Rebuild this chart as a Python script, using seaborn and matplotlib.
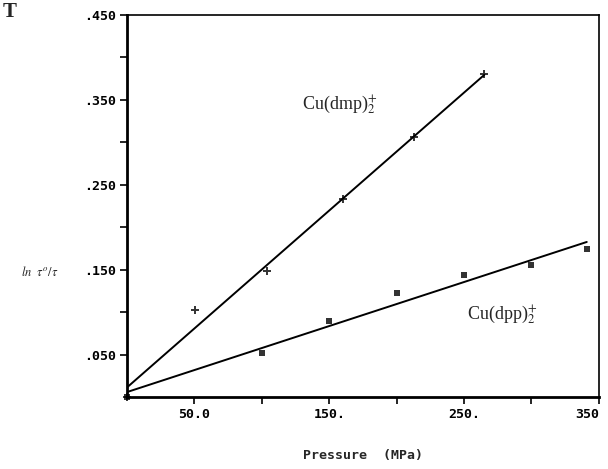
#!/usr/bin/env python

import pandas as pd
import seaborn as sns
import matplotlib.pyplot as plt

sns.set_theme(style="ticks")
plt.rcParams['mathtext.fontset'] = 'stix'

# points (origin shared by both series)
pressure_dmp = [0, 50.5, 104, 160, 213, 265]
lnratio_dmp = [0.0, 0.102, 0.148, 0.233, 0.306, 0.380]
pressure_dpp = [0, 100, 150, 200, 250, 300, 341]
lnratio_dpp = [0.0, 0.052, 0.0895, 0.122, 0.1437, 0.155, 0.174]

y_ticks = [0.05, 0.10, 0.15, 0.20, 0.25, 0.30, 0.35, 0.40, 0.45]
y_labels = ['.050', '', '.150', '', '.250', '', '.350', '', '.450']
x_ticks = [50, 100, 150, 200, 250, 300, 350]
x_labels = ['50.0', '', '150.', '', '250.', '', '350']


def main():
    dmp = pd.DataFrame({'Pressure': pressure_dmp, 'ln': lnratio_dmp})
    dpp = pd.DataFrame({'Pressure': pressure_dpp, 'ln': lnratio_dpp})

    fig = plt.figure(figsize=(6.08, 4.69), dpi=100)
    ax = fig.add_axes([0.209, 0.1535, 0.776, 0.8145])

    sns.regplot(data=dmp, x='Pressure', y='ln', ci=None, marker='+',
                color='black', ax=ax,
                scatter_kws=dict(s=35, linewidths=1.4, clip_on=False),
                line_kws=dict(lw=1.4))
    sns.regplot(data=dpp, x='Pressure', y='ln', ci=None, marker='s',
                color='black', ax=ax,
                scatter_kws=dict(s=18, linewidths=0, clip_on=False),
                line_kws=dict(lw=1.4))

    ax.set_xlim(0, 350)
    ax.set_ylim(0, 0.45)
    ax.set_xticks(x_ticks)
    ax.set_xticklabels(x_labels)
    ax.set_yticks(y_ticks)
    ax.set_yticklabels(y_labels)
    tick_font = dict(family='DejaVu Sans Mono', weight='bold', size=9.5)
    for lab in ax.get_xticklabels() + ax.get_yticklabels():
        lab.set_fontproperties(tick_font)
    # last x label sits flush against the right edge in the scan
    ax.get_xticklabels()[-1].set_horizontalalignment('right')
    ax.get_xticklabels()[-1].set_x(350)
    ax.tick_params(axis='both', direction='out', length=5, width=1.2,
                   color='black', labelcolor='black', pad=3)
    ax.tick_params(axis='x', pad=3)

    for side in ['left', 'bottom']:
        ax.spines[side].set_linewidth(2.0)
    for side in ['top', 'right']:
        ax.spines[side].set_linewidth(1.2)
    for sp in ax.spines.values():
        sp.set_color('black')

    ax.set_xlabel('Pressure  (MPa)', fontdict=tick_font, labelpad=20)
    ax.set_ylabel('')

    ax.text(130, 0.345, r'Cu(dmp)$_2^{\!+}$', family='Liberation Serif',
            fontsize=13, va='center', ha='left')
    ax.text(252, 0.097, r'Cu(dpp)$_2^{\!+}$', family='Liberation Serif',
            fontsize=13, va='center', ha='left')

    fig.text(0.035, 1 - 272 / 469, r'$ln\ \ \tau^{o}/\tau$', fontsize=9,
             va='center', ha='left')
    fig.text(0.005, 0.975, 'T', family='Liberation Serif', weight='bold',
             fontsize=15, va='center', ha='left')

    fig.savefig('out.png', dpi=100)


if __name__ == '__main__':
    main()
